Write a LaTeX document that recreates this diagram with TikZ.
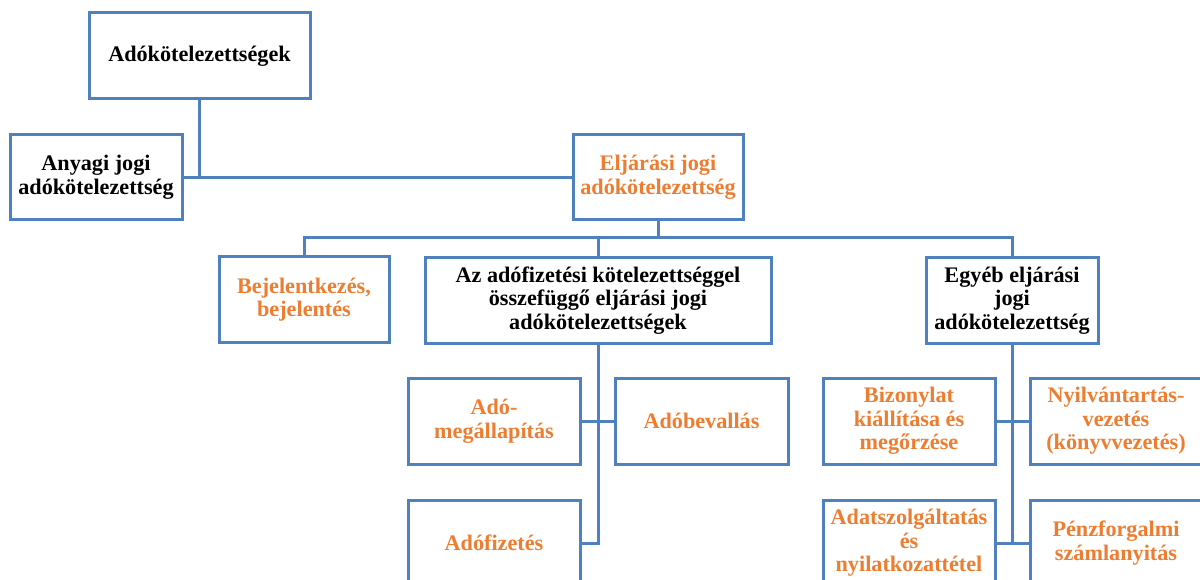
\documentclass[tikz,border=0pt]{standalone}
\usepackage{fontspec}
\setmainfont{Liberation Serif}
\definecolor{frameblue}{RGB}{79,129,189}
\definecolor{labelorange}{RGB}{237,125,49}
\tikzset{
  box/.style={draw=frameblue, line width=3pt, fill=white, align=center,
    inner sep=2pt, font=\fontsize{22.2}{23.6}\selectfont\bfseries},
  plain/.style={box, text=black},
  hot/.style={box, text=labelorange},
  wire/.style={draw=frameblue, line width=3pt}
}
\begin{document}
\begin{tikzpicture}[x=1pt, y=-1pt]
  \useasboundingbox (0,0) rectangle (1200,580);
  \clip (0,0) rectangle (1200,580);

  % level 0 and 1
  \node[plain, minimum width=221pt, minimum height=86pt] (top) at (199.5,56) {Adókötelezettségek};
  \node[plain, minimum width=172pt, minimum height=85pt] (anyagi) at (96,177.5) {Anyagi jogi\\adókötelezettség};
  \node[hot, minimum width=170pt, minimum height=85pt] (eljar) at (658,177.5) {Eljárási jogi\\adókötelezettség};

  % level 2
  \node[hot, minimum width=170pt, minimum height=85pt] (bejel) at (304,299.5) {Bejelentkezés,\\bejelentés};
  \node[plain, minimum width=346pt, minimum height=85pt] (adofiz) at (598,300.5) {Az adófizetési kötelezettséggel\\összefüggő eljárási jogi\\adókötelezettségek};
  \node[plain, minimum width=172pt, minimum height=85pt] (egyeb) at (1012,300.5) {Egyéb eljárási\\jogi\\adókötelezettség};

  % level 3, tax payment branch
  \node[hot, minimum width=172pt, minimum height=86pt] (adomeg) at (494,421) {Adó-\\megállapítás};
  \node[hot, minimum width=173pt, minimum height=86pt] (adobev) at (701.5,421) {Adóbevallás};
  \node[hot, minimum width=172pt, minimum height=86pt] (adofizetes) at (494,543) {Adófizetés};

  % level 3, other procedural branch
  \node[hot, minimum width=172pt, minimum height=86pt] (bizony) at (909,421) {Bizonylat\\kiállítása és\\megőrzése};
  \node[hot, minimum width=172pt, minimum height=86pt] (nyilv) at (1116,421) {Nyilvántartás-\\vezetés\\(könyvvezetés)};
  \node[hot, minimum width=172pt, minimum height=86pt] (adatsz) at (909,543) {Adatszolgáltatás\\és\\nyilatkozattétel};
  \node[hot, minimum width=172pt, minimum height=86pt] (penzf) at (1116,543) {Pénzforgalmi\\számlanyitás};

  % connectors
  \coordinate (bus) at (0,238);
  \path[wire] (top.south) -- (top.south |- anyagi.east);
  \path[wire] (anyagi.east) -- (eljar.west);
  \path[wire] (eljar.south) -- (eljar.south |- bus);
  \path[wire] (bejel.north) -- (bejel.north |- bus) -- (egyeb.north |- bus) -- (egyeb.north);
  \path[wire] (adofiz.north) -- (adofiz.north |- bus);

  \path[wire] (adofiz.south) -- (adofiz.south |- adofizetes.east) -- (adofizetes.east);
  \path[wire] (adomeg.east) -- (adobev.west);

  \path[wire] (egyeb.south) -- (egyeb.south |- adatsz.east);
  \path[wire] (adatsz.east) -- (penzf.west);
  \path[wire] (bizony.east) -- (nyilv.west);
\end{tikzpicture}
\end{document}
